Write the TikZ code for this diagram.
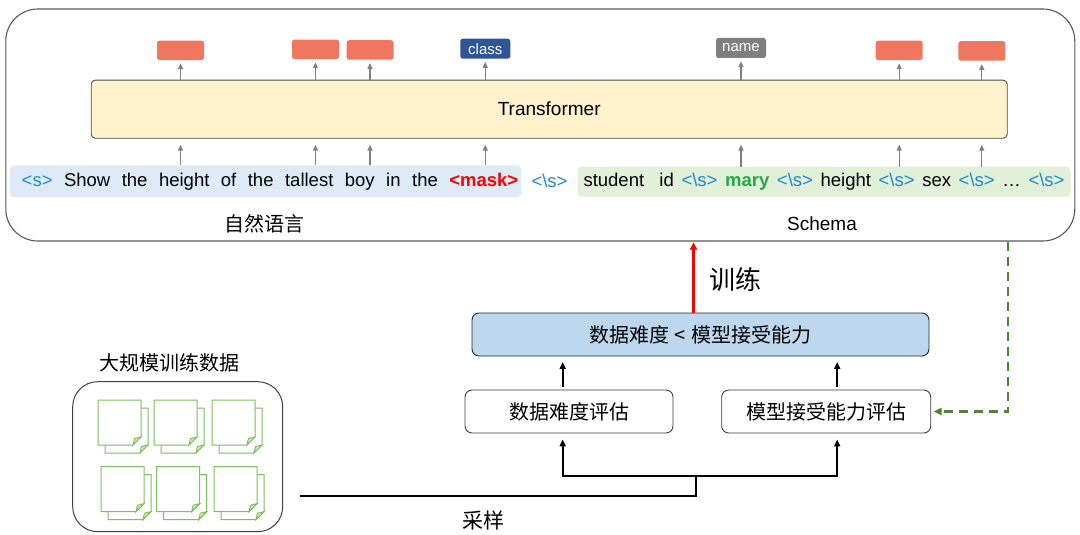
\documentclass[tikz,border=0pt]{standalone}
\usepackage{fontspec}
\setmainfont{Liberation Sans}
\newfontfamily\cjk{Noto Sans CJK SC}
\usetikzlibrary{arrows.meta}

\definecolor{predorange}{RGB}{240,118,96}
\definecolor{classblue}{RGB}{47,85,151}
\definecolor{namegray}{RGB}{127,127,127}
\definecolor{trfyellow}{RGB}{255,242,204}
\definecolor{nlblue}{RGB}{222,235,247}
\definecolor{schemagreen}{RGB}{226,240,217}
\definecolor{sepblue}{RGB}{30,136,208}
\definecolor{marygreen}{RGB}{34,170,68}
\definecolor{cmpblue}{RGB}{189,215,238}
\definecolor{feedgreen}{RGB}{84,130,53}
\definecolor{docgreen}{RGB}{125,192,95}

\newcommand{\sep}{{\color{sepblue}<\textbackslash s>}}

\tikzset{
  outer/.style={draw=black!65, line width=1.1pt, rounded corners=32pt,
    minimum width=1069pt, minimum height=232pt},
  predbox/.style={fill=predorange, rounded corners=2.5pt, minimum width=47pt,
    minimum height=19.5pt, inner sep=0pt},
  tagbox/.style={rounded corners=2.5pt, minimum width=50pt, minimum height=20pt,
    inner sep=0pt, text=white, font=\fontsize{15}{17}\selectfont},
  trfbox/.style={draw=black!70, fill=trfyellow, rounded corners=4pt, line width=0.9pt,
    minimum width=916pt, minimum height=58pt, font=\fontsize{19}{22}\selectfont},
  tokbox/.style={rounded corners=4pt, inner sep=0pt, minimum height=32pt,
    font=\fontsize{18.5}{22}\selectfont},
  uparrow/.style={draw=black!50, line width=1.3pt, -{Triangle[length=6pt,width=5pt]}},
  evalbox/.style={draw=black!75, fill=white, rounded corners=7pt, line width=0.9pt,
    minimum width=208pt, minimum height=43pt, font=\cjk\fontsize{20}{24}\selectfont},
  flow/.style={line width=2.3pt, -{Triangle[length=7pt,width=6pt]}},
  docline/.style={draw=docgreen, fill=white, line width=1pt},
  cjklabel/.style={font=\cjk\fontsize{20}{24}\selectfont}
}

\begin{document}
\begin{tikzpicture}[x=1pt,y=-1pt]
  \useasboundingbox (0,0) rectangle (1080,535);

  % model part
  \node[outer] (model) at (540.3,125) {};
  \node[trfbox] (trf) at (549.2,109.2) {Transformer};

  \node[predbox] (o1) at (180.5,50.3) {};
  \node[predbox] (o2) at (315.5,49.3) {};
  \node[predbox] (o3) at (370,50) {};
  \node[tagbox, fill=classblue] (o4) at (485.3,48.7) {class};
  \node[tagbox, fill=namegray] (o5) at (741,48) {name};
  \node[predbox] (o6) at (899.2,50.3) {};
  \node[predbox] (o7) at (981.8,51) {};

  \node[tokbox, fill=nlblue, minimum width=511pt] (tokl) at (265.5,181.3)
    {\hspace*{9pt}\makebox[496.6pt][s]{{\color{sepblue}<s>} Show the height of the
    tallest boy in the {\color{red}\bfseries <mask>}}};
  \node[font=\fontsize{18.5}{22}\selectfont] (sepmid) at (549.5,181.3) {\sep};
  \node[tokbox, fill=schemagreen, minimum width=493pt, minimum height=30pt] (tokr)
    at (824,181.7) {\makebox[481pt][s]{student\ \ id \sep{} {\color{marygreen}\bfseries mary}
    \sep{} height \sep{} sex \sep{} \dots{} \sep}};

  \foreach \o/\t in {o1/tokl,o2/tokl,o3/tokl,o4/tokl,o5/tokr,o6/tokr,o7/tokr}{
    \draw[uparrow, shorten >=3pt] (\o.south |- trf.north) -- (\o.south);
    \draw[uparrow, shorten >=6pt] (\o.south |- \t.north) -- (\o.south |- trf.south);
  }

  \node[cjklabel] (nllabel) at (264,224) {自然语言};
  \node[font=\fontsize{19}{22}\selectfont] (schemalabel) at (822,224) {Schema};

  % curriculum part
  \node[evalbox, fill=cmpblue, draw=black!85, minimum width=457pt] (cmp) at (700.5,334.5)
    {数据难度\hspace{5pt}<\hspace{5pt}模型接受能力};
  \node[evalbox] (diffeval) at (569,411.5) {数据难度评估};
  \node[evalbox, minimum width=209pt] (capeval) at (826.2,411.5) {模型接受能力评估};

  \draw[draw=red, line width=2.5pt, -{Triangle[length=7pt,width=7pt]}, shorten >=1pt]
    ([xshift=-7pt]cmp.north) -- ([xshift=-7pt]cmp.north |- model.south);
  \node[font=\cjk\fontsize{26}{30}\selectfont] (trainlabel) at (735,280) {训练};

  \draw[flow, shorten <=3pt, shorten >=5.5pt] ([xshift=-6.3pt]diffeval.north)
    -- ([xshift=-6.3pt]diffeval.north |- cmp.south);
  \draw[flow, shorten <=3pt, shorten >=5.5pt] ([xshift=11pt]capeval.north)
    -- ([xshift=11pt]capeval.north |- cmp.south);

  % data part
  \node[draw=black!75, line width=1pt, rounded corners=25pt, minimum width=210pt,
    minimum height=150pt] (data) at (177.7,456.7) {};
  \node[cjklabel] (datalabel) at (169.5,363) {大规模训练数据};
  \foreach \px/\py in {98/400,154/400,212/400,101/466.7,156.7/466.7,214/466.7}{
    \begin{scope}[shift={(\px,\py)}]
      \foreach \dx/\dy in {7/8,0/0}{
        \draw[docline] (\dx,\dy) -- ++(43,0) -- ++(0,37) -- ++(-8,8) -- ++(-35,0) -- cycle;
        \draw[docline, fill=docgreen!35] (\dx+43,\dy+37) -- (\dx+35,\dy+45)
          -- (\dx+36.5,\dy+38.5) -- cycle;
      }
    \end{scope}
  }

  % sampling
  \coordinate (src) at (300,496);
  \coordinate (split) at (696,476);
  \draw[line width=2.3pt] (src) -| (split);
  \draw[flow, shorten >=6pt] (split) -| ([xshift=-6.3pt]diffeval.south);
  \draw[flow, shorten >=6pt] (split) -| ([xshift=11pt]capeval.south);
  \node[font=\cjk\fontsize{21}{25}\selectfont] (samplabel) at (483.3,520.7) {采样};

  % feedback
  \draw[draw=feedgreen, line width=2.3pt, dash pattern=on 9pt off 6pt,
    -{Triangle[length=8pt,width=7pt]}, shorten >=2.5pt]
    (trf.east |- model.south) |- (capeval.east);
\end{tikzpicture}
\end{document}
